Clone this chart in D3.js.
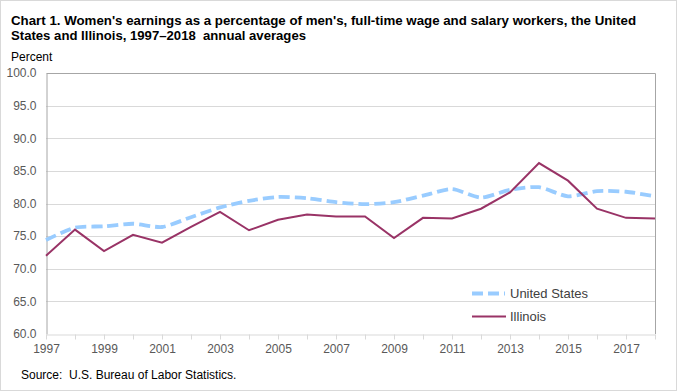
<!DOCTYPE html>
<html>
<head>
<meta charset="utf-8">
<script src="https://cdn.jsdelivr.net/npm/d3@7"></script>
<style>
  body { margin: 0; background: #fff; }
  svg { font-family: "Liberation Sans", Arial, sans-serif; }
  text { white-space: pre; }
</style>
</head>
<body>
<svg id="chart" width="678" height="392"></svg>
<script>
// data
var years = [1997, 1998, 1999, 2000, 2001, 2002, 2003, 2004, 2005, 2006, 2007,
             2008, 2009, 2010, 2011, 2012, 2013, 2014, 2015, 2016, 2017, 2018];
var unitedStates = [74.4, 76.3, 76.5, 76.9, 76.4, 77.9, 79.4, 80.4, 81.0, 80.8, 80.2,
                    79.9, 80.2, 81.2, 82.2, 80.9, 82.1, 82.5, 81.1, 81.9, 81.8, 81.1];
var illinois = [72.0, 76.0, 72.7, 75.2, 74.0, 76.4, 78.7, 75.9, 77.5, 78.3, 78.0,
                78.0, 74.7, 77.8, 77.7, 79.2, 81.7, 86.2, 83.5, 79.2, 77.8, 77.7];
var yTicks = [60, 65, 70, 75, 80, 85, 90, 95, 100];
var xLabels = [1997, 1999, 2001, 2003, 2005, 2007, 2009, 2011, 2013, 2015, 2017];

var svg = d3.select("svg#chart");

// outer frame
svg.append("rect")
    .attr("x", 0.5).attr("y", 0.5)
    .attr("width", 676).attr("height", 390)
    .style("fill", "#fff")
    .style("stroke", "#d9d9d9");

var pLeft = 46, pRight = 655, pTop = 73, pBottom = 334;

var x = d3.scaleLinear().domain([1997, 2018]).range([pLeft, pRight]);
var y = d3.scaleLinear().domain([60, 100]).range([pBottom, pTop]);

// title
svg.append("text")
    .attr("x", 11).attr("y", 25)
    .attr("textLength", 625).attr("lengthAdjust", "spacingAndGlyphs")
    .style("font-size", "13px")
    .style("font-weight", "bold")
    .style("fill", "#000")
    .text("Chart 1. Women's earnings as a percentage of men's, full-time wage and salary workers, the United");
svg.append("text")
    .attr("x", 11).attr("y", 40)
    .attr("textLength", 295).attr("lengthAdjust", "spacingAndGlyphs")
    .style("font-size", "13px")
    .style("font-weight", "bold")
    .style("fill", "#000")
    .text("States and Illinois, 1997\u20132018  annual averages");

svg.append("text")
    .attr("x", 11).attr("y", 61)
    .style("font-size", "12px")
    .style("fill", "#000")
    .text("Percent");

// gridlines
svg.append("g").selectAll("line")
    .data(yTicks.filter(d => d > 60 && d < 100))
    .enter()
    .append("line")
    .attr("x1", pLeft).attr("x2", pRight)
    .attr("y1", d => Math.round(y(d)) + 0.5)
    .attr("y2", d => Math.round(y(d)) + 0.5)
    .style("stroke", "#d9d9d9")
    .style("stroke-width", 1);

// plot border (top/right)
svg.append("path")
    .attr("d", "M" + (pLeft + 0.5) + "," + (pTop + 0.5) + "H" + (pRight + 0.5) + "V" + pBottom)
    .style("fill", "none")
    .style("stroke", "#a6a6a6");

// y axis
var yAxis = d3.axisLeft(y).tickValues(yTicks).tickSize(0).tickPadding(10)
    .tickFormat(d3.format(".1f"));
var gy = svg.append("g").attr("transform", "translate(" + (pLeft + 0.5) + ",0)").call(yAxis);
gy.select(".domain").style("stroke", "#a6a6a6");
gy.selectAll("text").style("font-size", "12px").style("fill", "#595959")
    .style("font-family", "'Liberation Sans', Arial, sans-serif");

// x axis
var xAxis = d3.axisBottom(x).tickValues(years).tickSize(5).tickSizeOuter(0)
    .tickFormat(d => xLabels.indexOf(d) >= 0 ? d : "");
var gx = svg.append("g").attr("transform", "translate(0," + (pBottom + 0.5) + ")").call(xAxis);
gx.select(".domain").style("stroke", "#d9d9d9");
gx.selectAll(".tick line").style("stroke", "#d9d9d9");
gx.selectAll("text").style("font-size", "12px").style("fill", "#595959")
    .attr("dy", "0.9em")
    .style("font-family", "'Liberation Sans', Arial, sans-serif");

// lines
var usLine = d3.line()
    .x((d, i) => x(years[i]))
    .y(d => y(d))
    .curve(d3.curveCardinal.tension(0.3));

var ilLine = d3.line()
    .x((d, i) => x(years[i]))
    .y(d => y(d));

svg.append("path")
    .datum(unitedStates)
    .attr("d", usLine)
    .style("fill", "none")
    .style("stroke", "#99ccff")
    .style("stroke-width", 3.8)
    .style("stroke-dasharray", "11,5");

svg.append("path")
    .datum(illinois)
    .attr("d", ilLine)
    .style("fill", "none")
    .style("stroke", "#993366")
    .style("stroke-width", 2);

// legend
var legend = svg.append("g");
legend.append("line")
    .attr("x1", 472).attr("x2", 505).attr("y1", 293.5).attr("y2", 293.5)
    .style("stroke", "#99ccff").style("stroke-width", 3.8)
    .style("stroke-dasharray", "11,5");
legend.append("text")
    .attr("x", 510).attr("y", 298)
    .style("font-size", "13px").style("fill", "#404040")
    .text("United States");
legend.append("line")
    .attr("x1", 472).attr("x2", 506).attr("y1", 316.5).attr("y2", 316.5)
    .style("stroke", "#993366").style("stroke-width", 2);
legend.append("text")
    .attr("x", 510).attr("y", 321)
    .style("font-size", "13px").style("fill", "#404040")
    .text("Illinois");

// source
svg.append("text")
    .attr("x", 21).attr("y", 379)
    .style("font-size", "12px")
    .style("fill", "#000")
    .text("Source:  U.S. Bureau of Labor Statistics.");
</script>
</body>
</html>
